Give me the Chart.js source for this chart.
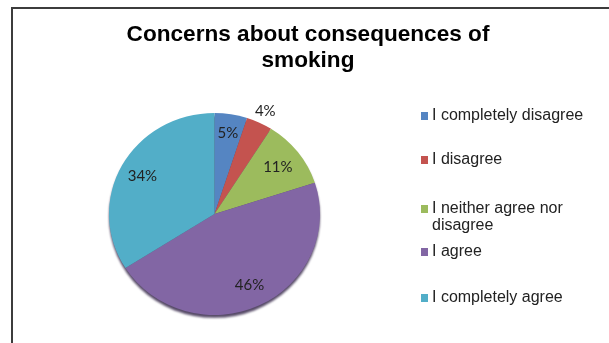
<!DOCTYPE html>
<html>
<head>
<meta charset="utf-8">
<script src="https://cdn.jsdelivr.net/npm/chart.js@4/dist/chart.umd.min.js"></script>
<style>
    html, body { margin: 0; padding: 0; background: #fff; }
    #wrap { position: relative; width: 609px; height: 343px; }
</style>
</head>
<body>
<div id="wrap"><canvas id="chart" width="609" height="343"></canvas></div>
<script>
// Survey answers and their shares (%)
const titleLines = ['Concerns about consequences of', 'smoking'];
const answers = ['I completely disagree', 'I disagree', 'I neither agree nor disagree', 'I agree', 'I completely agree'];
const legendLines = [['I completely disagree'], ['I disagree'], ['I neither agree nor', 'disagree'], ['I agree'], ['I completely agree']];
const shares = [5, 4, 11, 46, 34];
const sliceColors = ['#5585C2', '#C4534F', '#9CBB5D', '#8266A4', '#52AEC8'];

// Where each percentage sits, as a fraction of the radius
const labelRadius = [0.81, 1.13, 0.76, 0.78, 0.78];
const legendY = [116, 160, 209, 252, 298];

// the pie is squashed a little vertically, like a tilted disc
const tilt = 0.957;

// Outer frame + title, drawn before the pie
const framePlugin = {
    id: 'frame',
    beforeDraw(chart) {
        const ctx = chart.ctx;
        ctx.save();
        ctx.strokeStyle = '#3c3c3c';
        ctx.lineWidth = 2;
        ctx.beginPath();
        ctx.moveTo(12, 343);
        ctx.lineTo(12, 8);
        ctx.lineTo(609, 8);
        ctx.stroke();

        ctx.fillStyle = '#000';
        ctx.font = 'bold 22.6px "Liberation Sans", Arial, sans-serif';
        ctx.textAlign = 'center';
        ctx.textBaseline = 'middle';
        titleLines.forEach((line, i) => ctx.fillText(line, 308, 35 + i * 26));
        ctx.restore();
    }
};

// tilt + thin shadow under the bottom edge of the pie
const tiltPlugin = {
    id: 'pieTilt',
    beforeDatasetsDraw(chart) {
        const arc = chart.getDatasetMeta(0).data[0];
        if (!arc) return;
        const ctx = chart.ctx;
        ctx.save();
        ctx.translate(arc.x, arc.y);
        ctx.scale(1, tilt);
        ctx.translate(-arc.x, -arc.y);

        ctx.save();
        ctx.fillStyle = 'rgba(58,44,78,0.85)';
        ctx.filter = 'blur(0.8px)';
        ctx.beginPath();
        ctx.arc(arc.x, arc.y + 3, arc.outerRadius, 0, Math.PI * 2);
        ctx.fill();
        ctx.restore();
    },
    afterDatasetsDraw(chart) {
        chart.ctx.restore();
    }
};

// percentage labels + legend on the right
const labelPlugin = {
    id: 'sliceLabels',
    afterDatasetsDraw(chart) {
        const ctx = chart.ctx;
        const meta = chart.getDatasetMeta(0);
        ctx.save();
        ctx.font = '15px Lato, "Open Sans", sans-serif';
        ctx.fillStyle = '#222';
        ctx.textAlign = 'center';
        ctx.textBaseline = 'middle';
        meta.data.forEach((arc, i) => {
            const mid = (arc.startAngle + arc.endAngle) / 2;
            const r = arc.outerRadius * labelRadius[i];
            ctx.fillText(shares[i] + '%', arc.x + Math.cos(mid) * r, arc.y + Math.sin(mid) * r * tilt);
        });

        ctx.font = '16px "Liberation Sans", Arial, sans-serif';
        ctx.textAlign = 'left';
        legendLines.forEach((lines, i) => {
            ctx.fillStyle = sliceColors[i];
            ctx.fillRect(421, legendY[i] - 4, 7, 8);
            ctx.fillStyle = '#222';
            lines.forEach((t, j) => ctx.fillText(t, 432, legendY[i] + j * 17));
        });
        ctx.restore();
    }
};

new Chart(document.getElementById('chart'), {
    type: 'pie',
    data: {
        labels: answers,
        datasets: [{
            data: shares,
            backgroundColor: sliceColors,
            borderWidth: 0
        }]
    },
    options: {
        responsive: false,
        animation: false,
        layout: { padding: { left: 109, right: 289, top: 108.5, bottom: 23.5 } },
        plugins: {
            legend: { display: false },
            title: { display: false },
            tooltip: { enabled: false }
        }
    },
    plugins: [framePlugin, tiltPlugin, labelPlugin]
});
</script>
</body>
</html>
